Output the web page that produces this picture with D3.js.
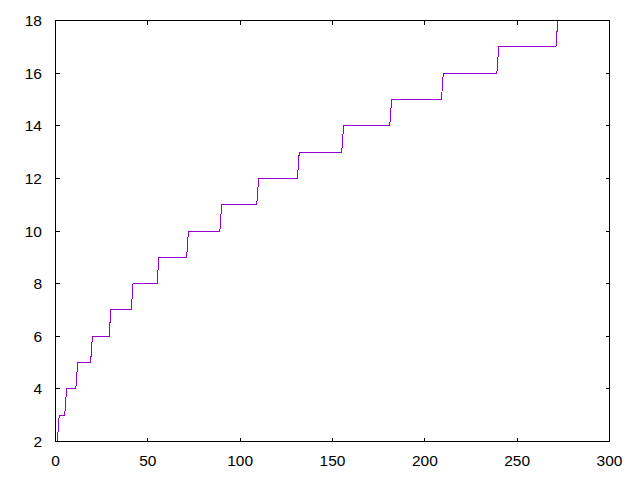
<!DOCTYPE html>
<html><head><meta charset="utf-8">
<script src="https://cdn.jsdelivr.net/npm/d3@7"></script>
<style>body{margin:0;background:#fff}svg{display:block}</style>
</head><body>
<script>
// Data: x position where each new level is reached
const startX = 1, startY = 2;
const jumpX = [2, 6, 12, 20, 30, 42, 56, 72, 90, 110, 132, 156, 182, 210, 240, 272];
const jumpY = [3, 4, 5, 6, 7, 8, 9, 10, 11, 12, 13, 14, 15, 16, 17, 18];
const xTicks = [0, 50, 100, 150, 200, 250, 300];
const yTicks = [2, 4, 6, 8, 10, 12, 14, 16, 18];

const W = 640, H = 480;
const L = 55.5, R = 609.5, T = 20.5, B = 441.5;
const svg = d3.select("body").append("svg").attr("width", W).attr("height", H);
const x = d3.scaleLinear().domain([0, 300]).range([L, R]);
const y = d3.scaleLinear().domain([2, 18]).range([B, T]);

const pts = [[startX, startY]];
jumpX.forEach((jx, i) => { pts.push([jx - 1, jumpY[i] - 1]); pts.push([jx, jumpY[i]]); });

const font = "Liberation Sans, Arial, sans-serif";
const tl = 4;
const g = svg.append("g").attr("stroke", "#000").attr("stroke-width", 1).attr("shape-rendering", "crispEdges");
xTicks.forEach(v => {
  g.append("line").attr("x1", x(v)).attr("x2", x(v)).attr("y1", B).attr("y2", B - tl);
  g.append("line").attr("x1", x(v)).attr("x2", x(v)).attr("y1", T).attr("y2", T + tl);
});
yTicks.forEach(v => {
  g.append("line").attr("x1", L).attr("x2", L + tl).attr("y1", y(v)).attr("y2", y(v));
  g.append("line").attr("x1", R).attr("x2", R - tl).attr("y1", y(v)).attr("y2", y(v));
});

svg.append("path").datum(pts)
  .attr("d", d3.line().x(d => x(d[0])).y(d => y(d[1])))
  .attr("fill", "none").attr("stroke", "#9400d3").attr("stroke-width", 1)
  .attr("shape-rendering", "crispEdges");

svg.append("rect").attr("x", L).attr("y", T).attr("width", R - L).attr("height", B - T)
  .attr("fill", "none").attr("stroke", "#000").attr("stroke-width", 1).attr("shape-rendering", "crispEdges");

svg.append("g").selectAll("text").data(xTicks).join("text")
  .attr("x", d => x(d)).attr("y", 466).attr("text-anchor", "middle")
  .attr("font-family", font).attr("font-size", "15.5px").attr("fill", "#000").text(d => d);
svg.append("g").selectAll("text").data(yTicks).join("text")
  .attr("x", 42).attr("y", d => y(d) + 5.5).attr("text-anchor", "end")
  .attr("font-family", font).attr("font-size", "15.5px").attr("fill", "#000").text(d => d);
</script>
</body></html>
